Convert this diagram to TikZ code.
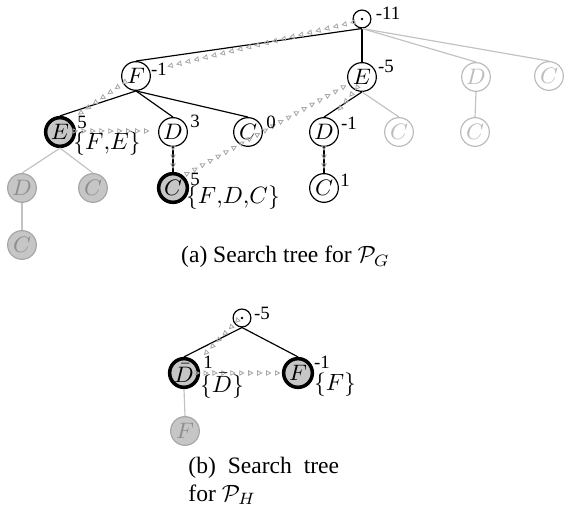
\RequirePackage{fix-cm}
\documentclass[tikz,border=0pt]{standalone}
\usepackage{fontspec}
\setmainfont{Liberation Serif}
\usetikzlibrary{arrows.meta,decorations.markings}

\definecolor{edgegray}{HTML}{C2C2C2}
\definecolor{trailgray}{HTML}{A8A8A8}
\definecolor{nodefill}{HTML}{C6C6C6}
\definecolor{prunedline}{HTML}{A6A6A6}
\definecolor{prunedtext}{HTML}{8E8E8E}
\definecolor{unseenline}{HTML}{BBBBBB}

\begin{document}
\begin{tikzpicture}[x=0.425pt,y=-0.425pt,
  st/.style={circle,draw,line width=0.5pt,minimum size=12.2pt,inner sep=0pt,
             font=\fontsize{9.5}{11}\selectfont},
  done/.style={st,line width=1.5pt,fill=nodefill},
  pruned/.style={st,draw=prunedline,fill=nodefill,text=prunedtext},
  unseen/.style={st,draw=unseenline,text=unseenline},
  rootnode/.style={circle,draw,line width=0.5pt,minimum size=7.6pt,inner sep=0pt,
             path picture={\fill (path picture bounding box.center) circle (0.55pt);}},
  num/.style={font=\footnotesize,inner sep=0pt},
  visited/.style={inner sep=0pt,font=\fontsize{10}{12}\selectfont},
  tree/.style={line width=0.5pt},
  cut/.style={line width=0.5pt,draw=edgegray},
  trail/.style={color=trailgray,line width=0.35pt,postaction={decorate},
             decoration={markings,mark=between positions 0 and 1 step 3.8pt with
             {\arrow{Triangle[open,length=2.3pt,width=2.3pt]}}}}
]
\useasboundingbox (0,0) rectangle (564,508);

% ---------------- search tree (a) ----------------
\node[rootnode] (r)   at (362,19) {};
\node[st]       (F)   at (136,76) {$F$};
\node[st]       (E)   at (362,77) {$E$};
\node[unseen]   (Du)  at (476,77) {$D$};
\node[unseen]   (Cu)  at (549,76) {$C$};

\node[done]     (Ed)  at (60,132)  {$E$};
\node[st]       (D3)  at (173,132) {$D$};
\node[st]       (C0)  at (248,132) {$C$};
\node[st]       (D1)  at (324,132) {$D$};
\node[unseen]   (Cu1) at (399,132) {$C$};
\node[unseen]   (Cu2) at (475,132) {$C$};

\node[pruned]   (Dp)  at (22,188)  {$D$};
\node[pruned]   (Cp)  at (93,188)  {$C$};
\node[done]     (C5)  at (173,188) {$C$};
\node[st]       (C1)  at (324,188) {$C$};
\node[pruned]   (Cp2) at (22,245)  {$C$};

% tree edges
\draw[tree] (r.south) -- (F.north);
\draw[tree] (r.south) -- (E.north);
\draw[cut]  (r.south) -- (Du.north);
\draw[cut]  (r.south) -- (Cu.north);
\draw[tree] (F.south) -- (Ed.north);
\draw[tree] (F.south) -- (D3.north);
\draw[tree] (F.south) -- (C0.north);
\draw[tree] (E.south) -- (D1.north);
\draw[cut]  (E.south) -- (Cu1.north);
\draw[cut]  (Du.south) -- (Cu2.north);
\draw[cut]  (Ed.south) -- (Dp.north);
\draw[cut]  (Ed.south) -- (Cp.north);
\draw[tree] (D3.south) -- (C5.north);
\draw[tree] (D1.south) -- (C1.north);
\draw[cut]  (Dp.south) -- (Cp2.north);

% order of the depth-first traversal
\path[trail] ([shift={(-12,4)}]r.center)  -- ([shift={(29,-9)}]F.center);
\path[trail] ([shift={(-14,8)}]F.center)  -- ([shift={(16,-16)}]Ed.center);
\path[trail] ([shift={(18,-1)}]Ed.center) -- ([shift={(-16,-1)}]D3.center);
\path[trail] ([shift={(0,19)}]D3.center)  -- ([shift={(0,-19)}]C5.center);
\path[trail] ([shift={(17,-16)}]C5.center) -- ([shift={(-15,8)}]E.center);
\path[trail] ([shift={(-7,13)}]E.center)  -- ([shift={(9,-15)}]D1.center);
\path[trail] ([shift={(0,19)}]D1.center)  -- ([shift={(0,-19)}]C1.center);

% bounds
\node[num] at ([shift={(26,-6)}]r.center)   {-11};
\node[num] at ([shift={(23,-7)}]F.center)   {-1};
\node[num] at ([shift={(24,-11)}]E.center)  {-5};
\node[num] at ([shift={(22,-10)}]Ed.center) {5};
\node[num] at ([shift={(22,-11)}]D3.center) {3};
\node[num] at ([shift={(23,-10)}]C0.center) {0};
\node[num] at ([shift={(25,-9)}]D1.center)  {-1};
\node[num] at ([shift={(22,-9)}]C5.center)  {5};
\node[num] at ([shift={(21,-8)}]C1.center)  {1};

% solution sets
\node[visited] at ([shift={(47,12)}]Ed.center) {$\{F{,}E\}$};
\node[visited] at ([shift={(60,10)}]C5.center) {$\{F{,}D{,}C\}$};

\node[anchor=base,font=\fontsize{10}{12}\selectfont,inner sep=0pt] (capa) at (285.5,263)
  {(a) Search tree for $\mathcal{P}_G$};

% ---------------- search tree (b) ----------------
\node[rootnode] (rb) at (242,318) {};
\node[done]     (Db) at (184,373) {$\bar{D}$};
\node[done]     (Fb) at (298,373) {$F$};
\node[pruned]   (Fp) at (185,431) {$F$};

\draw[tree] (rb.south) -- (Db.north);
\draw[tree] (rb.south) -- (Fb.north);
\draw[cut]  (Db.south) -- (Fp.north);

\path[trail] ([shift={(-7,5)}]rb.center) -- ([shift={(18,-16)}]Db.center);
\path[trail] ([shift={(16,0)}]Db.center) -- ([shift={(-15,0)}]Fb.center);

\node[num] at ([shift={(20,-5)}]rb.center)  {-5};
\node[num] at ([shift={(24,-11)}]Db.center) {1};
\node[num] at ([shift={(24,-11)}]Fb.center) {-1};
\node[visited] at ([shift={(38,13)}]Db.center) {$\{\bar{D}\}$};
\node[visited] at ([shift={(37,12)}]Fb.center) {$\{F\}$};

\node[anchor=base west,inner sep=0pt] (capb) at (188,474)
  {\parbox[t]{64pt}{\tolerance=10000\hbadness=10000\fontsize{10}{11.5}\selectfont
   (b) Search tree for $\mathcal{P}_H$}};
\end{tikzpicture}
\end{document}
